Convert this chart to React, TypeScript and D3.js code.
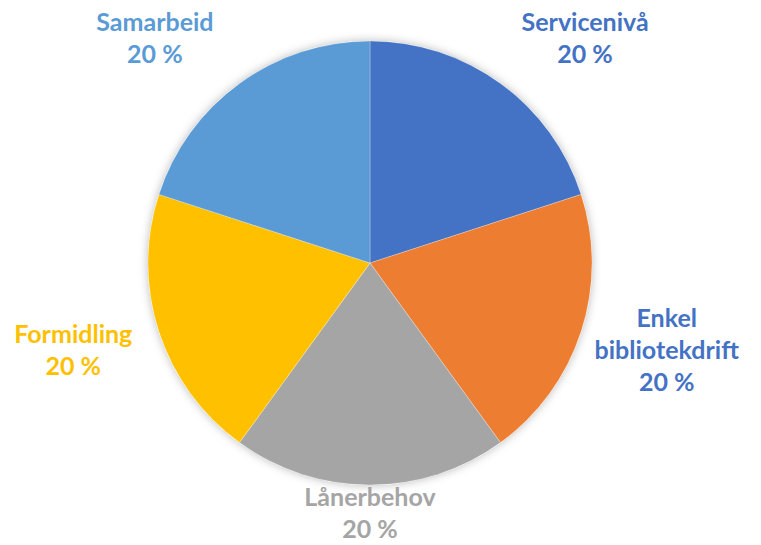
import React from "react";
import * as d3 from "d3";

const categories = ["Servicenivå", "Enkel bibliotekdrift", "Lånerbehov", "Formidling", "Samarbeid"];
const values = [20, 20, 20, 20, 20];
const sliceColors = ["#4472C4", "#ED7D31", "#A5A5A5", "#FFC000", "#5B9BD5"];
const labelColors = ["#4472C4", "#4472C4", "#A5A5A5", "#FFC000", "#5B9BD5"];

const W = 761;
const H = 545;
const CX = 370;
const CY = 263;
const R = 222;
const LABEL_R = 312;
const MIN_Y = 47;
const MAX_Y = 522;
const LINE_H = 32;
const FONT = "Lato, 'Open Sans', sans-serif";

export default function App() {
  const total = d3.sum(values);
  const pie = d3.pie<number>().sort(null).value((d) => d)(values);
  const arc = d3.arc<d3.PieArcDatum<number>>().innerRadius(0).outerRadius(R);

  return (
    <div style={{ position: "absolute", left: 0, top: 0 }}>
      <svg width={W} height={H} style={{ display: "block" }}>
        <defs>
          <filter id="sh" x="-20%" y="-20%" width="140%" height="140%">
            <feDropShadow dx="0" dy="0" stdDeviation="5" floodColor="#000" floodOpacity="0.28" />
          </filter>
        </defs>
        <rect width={W} height={H} fill="#fff" />
        <g transform={`translate(${CX},${CY})`}>
          <circle r={R} fill="#fff" filter="url(#sh)" />
          {pie.map((p, i) => (
            <path key={i} d={arc(p) || ""} fill={sliceColors[i]} stroke="#fff" strokeOpacity={0.35} strokeWidth={0.75} />
          ))}
        </g>
        {pie.map((p, i) => {
          const mid = (p.startAngle + p.endAngle) / 2;
          let x = LABEL_R * Math.sin(mid);
          let y = -LABEL_R * Math.cos(mid);
          const ay = Math.max(MIN_Y - CY, Math.min(MAX_Y - CY, y));
          if (ay !== y) {
            const ey = ay < 0 ? ay - 10 : ay;
            const dx = Math.sqrt(Math.max(0, LABEL_R * LABEL_R - ey * ey));
            x = Math.abs(x) < 1 ? 0 : Math.sign(x) * dx;
            y = ay;
          }
          const pct = `${d3.format(".0f")((values[i] / total) * 100)} %`;
          const lines = [...categories[i].split(" "), pct];
          const n = lines.length;
          const firstBase = CY + y - ((n - 1) * LINE_H) / 2;
          return (
            <text
              key={i}
              x={CX + x}
              textAnchor="middle"
              fontFamily={FONT}
              fontWeight={700}
              fontSize={25}
              fill={labelColors[i]}
            >
              {lines.map((l, j) => (
                <tspan key={j} x={CX + x} y={firstBase + j * LINE_H}>
                  {l}
                </tspan>
              ))}
            </text>
          );
        })}
      </svg>
    </div>
  );
}
